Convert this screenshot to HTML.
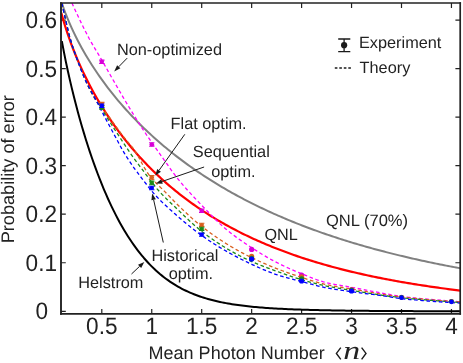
<!DOCTYPE html><html><head><meta charset="utf-8"><style>html,body{margin:0;padding:0;background:#fff}svg{display:block;will-change:transform}text{text-rendering:geometricPrecision;font-family:"Liberation Sans",sans-serif;fill:#222}</style></head><body>
<svg width="463" height="363" viewBox="0 0 463 363">
<rect width="463" height="363" fill="#fff"/>
<defs><clipPath id="c"><rect x="61.00" y="3.10" width="399.20" height="310.70"/></clipPath></defs>
<path d="M101.80,313.80 v-4.8 M101.80,3.10 v4.8 M151.75,313.80 v-4.8 M151.75,3.10 v4.8 M201.70,313.80 v-4.8 M201.70,3.10 v4.8 M251.65,313.80 v-4.8 M251.65,3.10 v4.8 M301.60,313.80 v-4.8 M301.60,3.10 v4.8 M351.55,313.80 v-4.8 M351.55,3.10 v4.8 M401.50,313.80 v-4.8 M401.50,3.10 v4.8 M451.45,313.80 v-4.8 M451.45,3.10 v4.8 M61.00,311.30 h4.8 M460.20,311.30 h-4.8 M61.00,262.76 h4.8 M460.20,262.76 h-4.8 M61.00,214.22 h4.8 M460.20,214.22 h-4.8 M61.00,165.68 h4.8 M460.20,165.68 h-4.8 M61.00,117.14 h4.8 M460.20,117.14 h-4.8 M61.00,68.60 h4.8 M460.20,68.60 h-4.8 M61.00,20.06 h4.8 M460.20,20.06 h-4.8" stroke="#222" stroke-width="1.2" fill="none"/>
<g clip-path="url(#c)" fill="none" stroke-linejoin="round">
<path d="M61.84,3.18 L63.84,8.92 L65.84,14.24 L67.85,19.23 L69.85,23.94 L71.85,28.42 L73.85,32.69 L75.85,36.79 L77.85,40.72 L79.86,44.52 L81.86,48.19 L83.86,51.74 L85.86,55.19 L87.86,58.53 L89.87,61.79 L91.87,64.96 L93.87,68.05 L95.87,71.06 L97.87,74.01 L99.87,76.88 L101.88,79.70 L103.88,82.45 L105.88,85.15 L107.88,87.79 L109.88,90.38 L111.89,92.93 L113.89,95.42 L115.89,97.87 L117.89,100.27 L119.89,102.63 L121.89,104.95 L123.90,107.23 L125.90,109.47 L127.90,111.68 L129.90,113.85 L131.90,115.98 L133.91,118.09 L135.91,120.15 L137.91,122.19 L139.91,124.20 L141.91,126.17 L143.91,128.12 L145.92,130.04 L147.92,131.93 L149.92,133.79 L151.92,135.63 L153.92,137.44 L155.93,139.23 L157.93,140.99 L159.93,142.73 L161.93,144.45 L163.93,146.14 L165.93,147.81 L167.94,149.46 L169.94,151.08 L171.94,152.69 L173.94,154.28 L175.94,155.84 L177.94,157.38 L179.95,158.91 L181.95,160.42 L183.95,161.90 L185.95,163.37 L187.95,164.83 L189.96,166.26 L191.96,167.68 L193.96,169.08 L195.96,170.46 L197.96,171.83 L199.96,173.18 L201.97,174.51 L203.97,175.83 L205.97,177.13 L207.97,178.42 L209.97,179.69 L211.98,180.95 L213.98,182.20 L215.98,183.43 L217.98,184.64 L219.98,185.85 L221.98,187.03 L223.99,188.21 L225.99,189.37 L227.99,190.52 L229.99,191.66 L231.99,192.78 L234.00,193.90 L236.00,195.00 L238.00,196.08 L240.00,197.16 L242.00,198.22 L244.00,199.28 L246.01,200.32 L248.01,201.35 L250.01,202.37 L252.01,203.38 L254.01,204.37 L256.02,205.36 L258.02,206.34 L260.02,207.30 L262.02,208.26 L264.02,209.21 L266.02,210.14 L268.03,211.07 L270.03,211.99 L272.03,212.89 L274.03,213.79 L276.03,214.68 L278.04,215.56 L280.04,216.43 L282.04,217.29 L284.04,218.15 L286.04,218.99 L288.04,219.83 L290.05,220.65 L292.05,221.47 L294.05,222.28 L296.05,223.09 L298.05,223.88 L300.06,224.67 L302.06,225.45 L304.06,226.22 L306.06,226.98 L308.06,227.73 L310.06,228.48 L312.07,229.22 L314.07,229.96 L316.07,230.68 L318.07,231.40 L320.07,232.11 L322.08,232.82 L324.08,233.52 L326.08,234.21 L328.08,234.89 L330.08,235.57 L332.08,236.24 L334.09,236.90 L336.09,237.56 L338.09,238.21 L340.09,238.86 L342.09,239.50 L344.10,240.13 L346.10,240.76 L348.10,241.38 L350.10,241.99 L352.10,242.60 L354.10,243.20 L356.11,243.80 L358.11,244.39 L360.11,244.98 L362.11,245.56 L364.11,246.13 L366.11,246.70 L368.12,247.27 L370.12,247.83 L372.12,248.38 L374.12,248.93 L376.12,249.47 L378.13,250.01 L380.13,250.54 L382.13,251.07 L384.13,251.59 L386.13,252.11 L388.13,252.62 L390.14,253.13 L392.14,253.64 L394.14,254.13 L396.14,254.63 L398.14,255.12 L400.15,255.60 L402.15,256.08 L404.15,256.56 L406.15,257.03 L408.15,257.50 L410.15,257.96 L412.16,258.42 L414.16,258.88 L416.16,259.33 L418.16,259.77 L420.16,260.21 L422.17,260.65 L424.17,261.09 L426.17,261.52 L428.17,261.94 L430.17,262.37 L432.17,262.78 L434.18,263.20 L436.18,263.61 L438.18,264.02 L440.18,264.42 L442.18,264.82 L444.19,265.22 L446.19,265.61 L448.19,266.00 L450.19,266.38 L452.19,266.76 L454.19,267.14 L456.20,267.52 L458.20,267.89 L460.20,268.26" stroke="#808080" stroke-width="2.0"/>
<path d="M61.24,12.74 L63.25,19.92 L65.25,26.53 L67.26,32.70 L69.26,38.51 L71.26,44.01 L73.27,49.25 L75.27,54.25 L77.28,59.05 L79.28,63.66 L81.29,68.10 L83.29,72.39 L85.30,76.54 L87.30,80.56 L89.31,84.46 L91.31,88.24 L93.32,91.92 L95.32,95.50 L97.33,98.99 L99.33,102.38 L101.34,105.70 L103.34,108.93 L105.35,112.09 L107.35,115.17 L109.36,118.19 L111.36,121.13 L113.37,124.02 L115.37,126.84 L117.38,129.60 L119.38,132.31 L121.39,134.96 L123.39,137.56 L125.39,140.11 L127.40,142.60 L129.40,145.05 L131.41,147.45 L133.41,149.81 L135.42,152.13 L137.42,154.40 L139.43,156.63 L141.43,158.82 L143.44,160.97 L145.44,163.08 L147.45,165.16 L149.45,167.20 L151.46,169.21 L153.46,171.18 L155.47,173.11 L157.47,175.02 L159.48,176.89 L161.48,178.74 L163.49,180.55 L165.49,182.33 L167.50,184.08 L169.50,185.81 L171.51,187.51 L173.51,189.18 L175.52,190.82 L177.52,192.44 L179.53,194.03 L181.53,195.60 L183.53,197.14 L185.54,198.66 L187.54,200.16 L189.55,201.63 L191.55,203.08 L193.56,204.51 L195.56,205.92 L197.57,207.30 L199.57,208.67 L201.58,210.01 L203.58,211.34 L205.59,212.64 L207.59,213.93 L209.60,215.20 L211.60,216.45 L213.61,217.68 L215.61,218.89 L217.62,220.08 L219.62,221.26 L221.63,222.42 L223.63,223.56 L225.64,224.69 L227.64,225.80 L229.65,226.90 L231.65,227.98 L233.66,229.04 L235.66,230.09 L237.66,231.12 L239.67,232.14 L241.67,233.15 L243.68,234.14 L245.68,235.12 L247.69,236.08 L249.69,237.03 L251.70,237.97 L253.70,238.90 L255.71,239.81 L257.71,240.71 L259.72,241.59 L261.72,242.47 L263.73,243.33 L265.73,244.18 L267.74,245.02 L269.74,245.85 L271.75,246.67 L273.75,247.47 L275.76,248.27 L277.76,249.05 L279.77,249.83 L281.77,250.59 L283.78,251.34 L285.78,252.09 L287.79,252.82 L289.79,253.54 L291.80,254.26 L293.80,254.96 L295.80,255.65 L297.81,256.34 L299.81,257.02 L301.82,257.68 L303.82,258.34 L305.83,258.99 L307.83,259.63 L309.84,260.27 L311.84,260.89 L313.85,261.51 L315.85,262.12 L317.86,262.72 L319.86,263.31 L321.87,263.90 L323.87,264.47 L325.88,265.04 L327.88,265.61 L329.89,266.16 L331.89,266.71 L333.90,267.25 L335.90,267.78 L337.91,268.31 L339.91,268.83 L341.92,269.35 L343.92,269.85 L345.93,270.35 L347.93,270.85 L349.93,271.34 L351.94,271.82 L353.94,272.29 L355.95,272.76 L357.95,273.23 L359.96,273.68 L361.96,274.14 L363.97,274.58 L365.97,275.02 L367.98,275.46 L369.98,275.89 L371.99,276.31 L373.99,276.73 L376.00,277.14 L378.00,277.55 L380.01,277.95 L382.01,278.35 L384.02,278.74 L386.02,279.13 L388.03,279.52 L390.03,279.89 L392.04,280.27 L394.04,280.64 L396.05,281.00 L398.05,281.36 L400.06,281.72 L402.06,282.07 L404.07,282.41 L406.07,282.75 L408.07,283.09 L410.08,283.43 L412.08,283.76 L414.09,284.08 L416.09,284.40 L418.10,284.72 L420.10,285.03 L422.11,285.34 L424.11,285.65 L426.12,285.95 L428.12,286.25 L430.13,286.55 L432.13,286.84 L434.14,287.12 L436.14,287.41 L438.15,287.69 L440.15,287.97 L442.16,288.24 L444.16,288.51 L446.17,288.78 L448.17,289.04 L450.18,289.30 L452.18,289.56 L454.19,289.81 L456.19,290.06 L458.20,290.31 L460.20,290.56" stroke="#ff0000" stroke-width="2.2"/>
<path d="M61.84,41.07 L63.84,51.66 L65.84,61.58 L67.85,70.96 L69.85,79.88 L71.85,88.39 L73.85,96.55 L75.85,104.37 L77.85,111.90 L79.86,119.15 L81.86,126.15 L83.86,132.90 L85.86,139.42 L87.86,145.72 L89.87,151.82 L91.87,157.71 L93.87,163.42 L95.87,168.93 L97.87,174.27 L99.87,179.44 L101.88,184.44 L103.88,189.27 L105.88,193.95 L107.88,198.48 L109.88,202.86 L111.89,207.09 L113.89,211.18 L115.89,215.13 L117.89,218.96 L119.89,222.65 L121.89,226.21 L123.90,229.65 L125.90,232.97 L127.90,236.18 L129.90,239.27 L131.90,242.25 L133.91,245.12 L135.91,247.89 L137.91,250.56 L139.91,253.13 L141.91,255.60 L143.91,257.98 L145.92,260.26 L147.92,262.46 L149.92,264.58 L151.92,266.61 L153.92,268.56 L155.93,270.43 L157.93,272.23 L159.93,273.96 L161.93,275.61 L163.93,277.20 L165.93,278.72 L167.94,280.18 L169.94,281.57 L171.94,282.91 L173.94,284.19 L175.94,285.41 L177.94,286.58 L179.95,287.70 L181.95,288.77 L183.95,289.79 L185.95,290.77 L187.95,291.70 L189.96,292.59 L191.96,293.44 L193.96,294.26 L195.96,295.03 L197.96,295.77 L199.96,296.47 L201.97,297.15 L203.97,297.79 L205.97,298.40 L207.97,298.98 L209.97,299.54 L211.98,300.07 L213.98,300.57 L215.98,301.05 L217.98,301.51 L219.98,301.95 L221.98,302.36 L223.99,302.76 L225.99,303.14 L227.99,303.49 L229.99,303.84 L231.99,304.16 L234.00,304.48 L236.00,304.77 L238.00,305.05 L240.00,305.32 L242.00,305.58 L244.00,305.83 L246.01,306.06 L248.01,306.28 L250.01,306.50 L252.01,306.70 L254.01,306.89 L256.02,307.08 L258.02,307.25 L260.02,307.42 L262.02,307.58 L264.02,307.74 L266.02,307.88 L268.03,308.03 L270.03,308.16 L272.03,308.29 L274.03,308.41 L276.03,308.53 L278.04,308.64 L280.04,308.75 L282.04,308.85 L284.04,308.95 L286.04,309.05 L288.04,309.14 L290.05,309.22 L292.05,309.31 L294.05,309.39 L296.05,309.46 L298.05,309.54 L300.06,309.61 L302.06,309.67 L304.06,309.74 L306.06,309.80 L308.06,309.86 L310.06,309.92 L312.07,309.97 L314.07,310.02 L316.07,310.07 L318.07,310.12 L320.07,310.17 L322.08,310.21 L324.08,310.26 L326.08,310.30 L328.08,310.34 L330.08,310.37 L332.08,310.41 L334.09,310.45 L336.09,310.48 L338.09,310.51 L340.09,310.54 L342.09,310.57 L344.10,310.60 L346.10,310.63 L348.10,310.66 L350.10,310.68 L352.10,310.70 L354.10,310.73 L356.11,310.75 L358.11,310.77 L360.11,310.79 L362.11,310.81 L364.11,310.83 L366.11,310.85 L368.12,310.87 L370.12,310.89 L372.12,310.90 L374.12,310.92 L376.12,310.93 L378.13,310.95 L380.13,310.96 L382.13,310.97 L384.13,310.99 L386.13,311.00 L388.13,311.01 L390.14,311.02 L392.14,311.03 L394.14,311.04 L396.14,311.05 L398.14,311.06 L400.15,311.07 L402.15,311.08 L404.15,311.09 L406.15,311.10 L408.15,311.11 L410.15,311.11 L412.16,311.12 L414.16,311.13 L416.16,311.13 L418.16,311.14 L420.16,311.15 L422.17,311.15 L424.17,311.16 L426.17,311.16 L428.17,311.17 L430.17,311.18 L432.17,311.18 L434.18,311.18 L436.18,311.19 L438.18,311.19 L440.18,311.20 L442.18,311.20 L444.19,311.21 L446.19,311.21 L448.19,311.21 L450.19,311.22 L452.19,311.22 L454.19,311.22 L456.20,311.23 L458.20,311.23 L460.20,311.23" stroke="#000000" stroke-width="2.0"/>
<path d="M71.90,3.07 L74.34,8.31 L76.78,13.54 L79.23,18.71 L81.67,23.79 L84.11,28.76 L86.55,33.58 L88.99,38.23 L91.44,42.64 L93.88,46.83 L96.32,50.90 L98.76,54.94 L101.21,59.07 L103.65,63.34 L106.09,67.65 L108.53,71.94 L110.97,76.23 L113.42,80.51 L115.86,84.76 L118.30,88.99 L120.74,93.19 L123.18,97.35 L125.63,101.48 L128.07,105.56 L130.51,109.61 L132.95,113.60 L135.40,117.54 L137.84,121.43 L140.28,125.26 L142.72,129.03 L145.16,132.75 L147.61,136.40 L150.05,139.99 L152.49,143.51 L154.93,146.98 L157.37,150.44 L159.82,153.90 L162.26,157.34 L164.70,160.77 L167.14,164.23 L169.59,167.71 L172.03,171.14 L174.47,174.46 L176.91,177.64 L179.35,180.68 L181.80,183.62 L184.24,186.46 L186.68,189.22 L189.12,191.92 L191.56,194.57 L194.01,197.19 L196.45,199.77 L198.89,202.34 L201.33,204.90 L203.78,207.47 L206.22,210.02 L208.66,212.57 L211.10,215.08 L213.54,217.55 L215.99,219.97 L218.43,222.32 L220.87,224.61 L223.31,226.82 L225.75,228.94 L228.20,230.98 L230.64,232.93 L233.08,234.81 L235.52,236.63 L237.97,238.40 L240.41,240.12 L242.85,241.81 L245.29,243.46 L247.73,245.09 L250.18,246.70 L252.62,248.29 L255.06,249.87 L257.50,251.42 L259.94,252.95 L262.39,254.44 L264.83,255.91 L267.27,257.33 L269.71,258.72 L272.16,260.08 L274.60,261.39 L277.04,262.66 L279.48,263.89 L281.92,265.09 L284.37,266.25 L286.81,267.39 L289.25,268.49 L291.69,269.57 L294.13,270.63 L296.58,271.66 L299.02,272.68 L301.46,273.67 L303.90,274.67 L306.35,275.67 L308.79,276.67 L311.23,277.65 L313.67,278.60 L316.11,279.50 L318.56,280.36 L321.00,281.15 L323.44,281.87 L325.88,282.52 L328.32,283.09 L330.77,283.62 L333.21,284.10 L335.65,284.55 L338.09,284.98 L340.54,285.40 L342.98,285.81 L345.42,286.22 L347.86,286.65 L350.30,287.09 L352.75,287.55 L355.19,288.02 L357.63,288.49 L360.07,288.96 L362.51,289.43 L364.96,289.91 L367.40,290.38 L369.84,290.84 L372.28,291.30 L374.73,291.76 L377.17,292.21 L379.61,292.65 L382.05,293.09 L384.49,293.52 L386.94,293.95 L389.38,294.40 L391.82,294.84 L394.26,295.27 L396.70,295.68 L399.15,296.06 L401.59,296.41 L404.03,296.73 L406.47,297.03 L408.92,297.32 L411.36,297.60 L413.80,297.86 L416.24,298.12 L418.68,298.36 L421.13,298.60 L423.57,298.83 L426.01,299.05 L428.45,299.27 L430.89,299.48 L433.34,299.68 L435.78,299.88 L438.22,300.08 L440.66,300.27 L443.11,300.46 L445.55,300.65 L447.99,300.84 L450.43,301.03 L452.87,301.21 L455.32,301.40 L457.76,301.57 L460.20,301.75" stroke="#ff00ff" stroke-width="1.3" stroke-dasharray="3.6 2.6"/>
<path d="M61.84,3.07 L64.35,14.39 L66.85,25.38 L69.36,35.72 L71.86,44.43 L74.37,51.73 L76.87,58.54 L79.38,65.31 L81.88,71.84 L84.39,77.92 L86.89,83.44 L89.40,88.69 L91.90,93.60 L94.41,98.02 L96.92,101.83 L99.42,104.79 L101.93,107.59 L104.43,110.77 L106.94,114.09 L109.44,117.50 L111.95,120.96 L114.45,124.44 L116.96,127.91 L119.46,131.33 L121.97,134.67 L124.48,137.92 L126.98,141.03 L129.49,143.91 L131.99,146.85 L134.50,150.23 L137.00,154.29 L139.51,158.79 L142.01,163.44 L144.52,167.94 L147.02,172.06 L149.53,175.58 L152.03,178.63 L154.54,181.41 L157.05,183.99 L159.55,186.46 L162.06,188.90 L164.56,191.35 L167.07,193.90 L169.57,196.50 L172.08,199.11 L174.58,201.68 L177.09,204.20 L179.59,206.68 L182.10,209.11 L184.61,211.50 L187.11,213.84 L189.62,216.14 L192.12,218.38 L194.63,220.56 L197.13,222.68 L199.64,224.75 L202.14,226.75 L204.65,228.70 L207.15,230.60 L209.66,232.46 L212.16,234.26 L214.67,236.03 L217.18,237.75 L219.68,239.43 L222.19,241.06 L224.69,242.66 L227.20,244.22 L229.70,245.75 L232.21,247.23 L234.71,248.68 L237.22,250.10 L239.72,251.49 L242.23,252.84 L244.73,254.17 L247.24,255.46 L249.75,256.72 L252.25,257.96 L254.76,259.16 L257.26,260.33 L259.77,261.48 L262.27,262.59 L264.78,263.69 L267.28,264.76 L269.79,265.80 L272.29,266.83 L274.80,267.84 L277.31,268.83 L279.81,269.79 L282.32,270.74 L284.82,271.67 L287.33,272.57 L289.83,273.46 L292.34,274.33 L294.84,275.19 L297.35,276.03 L299.85,276.85 L302.36,277.66 L304.86,278.48 L307.37,279.30 L309.88,280.11 L312.38,280.90 L314.89,281.67 L317.39,282.40 L319.90,283.09 L322.40,283.74 L324.91,284.34 L327.41,284.88 L329.92,285.38 L332.42,285.84 L334.93,286.28 L337.43,286.69 L339.94,287.09 L342.45,287.49 L344.95,287.88 L347.46,288.29 L349.96,288.70 L352.47,289.13 L354.97,289.57 L357.48,290.02 L359.98,290.47 L362.49,290.92 L364.99,291.37 L367.50,291.81 L370.01,292.26 L372.51,292.69 L375.02,293.12 L377.52,293.54 L380.03,293.96 L382.53,294.36 L385.04,294.75 L387.54,295.13 L390.05,295.49 L392.55,295.84 L395.06,296.18 L397.56,296.50 L400.07,296.81 L402.58,297.11 L405.08,297.39 L407.59,297.66 L410.09,297.93 L412.60,298.19 L415.10,298.45 L417.61,298.69 L420.11,298.93 L422.62,299.16 L425.12,299.39 L427.63,299.61 L430.14,299.83 L432.64,300.03 L435.15,300.24 L437.65,300.44 L440.16,300.63 L442.66,300.82 L445.17,301.00 L447.67,301.18 L450.18,301.36 L452.68,301.53 L455.19,301.69 L457.69,301.85 L460.20,302.00" stroke="#d95f1e" stroke-width="1.3" stroke-dasharray="3.6 2.6"/>
<path d="M61.84,3.07 L64.35,14.39 L66.85,25.38 L69.36,35.72 L71.86,44.43 L74.37,51.73 L76.87,58.54 L79.38,65.31 L81.88,71.84 L84.39,77.92 L86.89,83.41 L89.40,88.44 L91.90,93.13 L94.41,97.55 L96.92,101.78 L99.42,105.73 L101.93,109.57 L104.43,113.53 L106.94,117.46 L109.44,121.37 L111.95,125.26 L114.45,129.13 L116.96,132.97 L119.46,136.79 L121.97,140.58 L124.48,144.44 L126.98,148.29 L129.49,151.98 L131.99,155.55 L134.50,159.02 L137.00,162.44 L139.51,165.81 L142.01,169.17 L144.52,172.55 L147.02,175.94 L149.53,179.30 L152.03,182.55 L154.54,185.72 L157.05,188.80 L159.55,191.70 L162.06,194.41 L164.56,196.97 L167.07,199.44 L169.57,201.83 L172.08,204.20 L174.58,206.56 L177.09,208.94 L179.59,211.36 L182.10,213.78 L184.61,216.19 L187.11,218.57 L189.62,220.91 L192.12,223.20 L194.63,225.43 L197.13,227.58 L199.64,229.66 L202.14,231.65 L204.65,233.58 L207.15,235.46 L209.66,237.29 L212.16,239.07 L214.67,240.81 L217.18,242.50 L219.68,244.15 L222.19,245.75 L224.69,247.31 L227.20,248.82 L229.70,250.30 L232.21,251.73 L234.71,253.12 L237.22,254.48 L239.72,255.79 L242.23,257.07 L244.73,258.31 L247.24,259.51 L249.75,260.68 L252.25,261.81 L254.76,262.90 L257.26,263.95 L259.77,264.96 L262.27,265.94 L264.78,266.90 L267.28,267.83 L269.79,268.76 L272.29,269.68 L274.80,270.59 L277.31,271.50 L279.81,272.41 L282.32,273.31 L284.82,274.19 L287.33,275.07 L289.83,275.92 L292.34,276.76 L294.84,277.57 L297.35,278.36 L299.85,279.13 L302.36,279.87 L304.86,280.61 L307.37,281.32 L309.88,282.03 L312.38,282.71 L314.89,283.38 L317.39,284.02 L319.90,284.63 L322.40,285.21 L324.91,285.76 L327.41,286.27 L329.92,286.76 L332.42,287.21 L334.93,287.64 L337.43,288.06 L339.94,288.47 L342.45,288.87 L344.95,289.27 L347.46,289.66 L349.96,290.07 L352.47,290.48 L354.97,290.90 L357.48,291.32 L359.98,291.74 L362.49,292.16 L364.99,292.58 L367.50,292.99 L370.01,293.39 L372.51,293.79 L375.02,294.19 L377.52,294.57 L380.03,294.95 L382.53,295.31 L385.04,295.67 L387.54,296.01 L390.05,296.34 L392.55,296.67 L395.06,296.97 L397.56,297.27 L400.07,297.55 L402.58,297.82 L405.08,298.08 L407.59,298.33 L410.09,298.57 L412.60,298.80 L415.10,299.03 L417.61,299.24 L420.11,299.46 L422.62,299.66 L425.12,299.87 L427.63,300.06 L430.14,300.26 L432.64,300.45 L435.15,300.64 L437.65,300.82 L440.16,301.01 L442.66,301.19 L445.17,301.38 L447.67,301.56 L450.18,301.74 L452.68,301.92 L455.19,302.11 L457.69,302.29 L460.20,302.47" stroke="#1a8a1a" stroke-width="1.3" stroke-dasharray="3.6 2.6"/>
<path d="M61.84,3.07 L64.35,14.39 L66.85,25.38 L69.36,35.72 L71.86,44.43 L74.37,51.73 L76.87,58.54 L79.38,65.31 L81.88,71.84 L84.39,77.92 L86.89,83.39 L89.40,88.22 L91.90,92.70 L94.41,97.12 L96.92,101.74 L99.42,106.72 L101.93,111.56 L104.43,116.39 L106.94,121.13 L109.44,125.81 L111.95,130.45 L114.45,135.07 L116.96,139.69 L119.46,144.47 L121.97,149.16 L124.48,153.42 L126.98,157.45 L129.49,161.29 L131.99,164.97 L134.50,168.52 L137.00,171.95 L139.51,175.31 L142.01,178.59 L144.52,181.83 L147.02,185.05 L149.53,188.28 L152.03,191.44 L154.54,194.33 L157.05,197.06 L159.55,199.65 L162.06,202.12 L164.56,204.52 L167.07,206.84 L169.57,209.11 L172.08,211.35 L174.58,213.56 L177.09,215.78 L179.59,217.96 L182.10,220.11 L184.61,222.22 L187.11,224.28 L189.62,226.31 L192.12,228.29 L194.63,230.23 L197.13,232.13 L199.64,233.99 L202.14,235.80 L204.65,237.57 L207.15,239.29 L209.66,240.98 L212.16,242.62 L214.67,244.23 L217.18,245.80 L219.68,247.34 L222.19,248.84 L224.69,250.31 L227.20,251.74 L229.70,253.15 L232.21,254.52 L234.71,255.87 L237.22,257.19 L239.72,258.48 L242.23,259.74 L244.73,260.98 L247.24,262.19 L249.75,263.38 L252.25,264.54 L254.76,265.70 L257.26,266.85 L259.77,267.99 L262.27,269.10 L264.78,270.18 L267.28,271.22 L269.79,272.22 L272.29,273.16 L274.80,274.06 L277.31,274.90 L279.81,275.68 L282.32,276.43 L284.82,277.14 L287.33,277.82 L289.83,278.49 L292.34,279.14 L294.84,279.79 L297.35,280.43 L299.85,281.08 L302.36,281.75 L304.86,282.43 L307.37,283.12 L309.88,283.81 L312.38,284.49 L314.89,285.16 L317.39,285.80 L319.90,286.41 L322.40,286.99 L324.91,287.52 L327.41,288.00 L329.92,288.46 L332.42,288.89 L334.93,289.30 L337.43,289.69 L339.94,290.07 L342.45,290.43 L344.95,290.79 L347.46,291.15 L349.96,291.51 L352.47,291.87 L354.97,292.22 L357.48,292.55 L359.98,292.87 L362.49,293.19 L364.99,293.50 L367.50,293.81 L370.01,294.11 L372.51,294.42 L375.02,294.74 L377.52,295.06 L380.03,295.38 L382.53,295.72 L385.04,296.06 L387.54,296.44 L390.05,296.85 L392.55,297.27 L395.06,297.68 L397.56,298.06 L400.07,298.41 L402.58,298.71 L405.08,298.98 L407.59,299.25 L410.09,299.50 L412.60,299.74 L415.10,299.97 L417.61,300.18 L420.11,300.39 L422.62,300.60 L425.12,300.79 L427.63,300.98 L430.14,301.16 L432.64,301.34 L435.15,301.51 L437.65,301.68 L440.16,301.84 L442.66,302.01 L445.17,302.17 L447.67,302.33 L450.18,302.48 L452.68,302.64 L455.19,302.79 L457.69,302.93 L460.20,303.08" stroke="#0000ff" stroke-width="1.3" stroke-dasharray="3.6 2.6"/>
</g>
<g>
<path d="M99.10,60.10 H104.50 M99.10,63.50 H104.50" stroke="#d800d8" stroke-width="1.1" fill="none"/>
<ellipse cx="101.80" cy="61.80" rx="2.3" ry="2.00" fill="#d800d8"/>
<path d="M99.10,102.33 H104.50 M99.10,105.73 H104.50" stroke="#d95f1e" stroke-width="1.1" fill="none"/>
<ellipse cx="101.80" cy="104.03" rx="2.3" ry="2.00" fill="#d95f1e"/>
<path d="M99.10,105.73 H104.50 M99.10,109.13 H104.50" stroke="#1a8a1a" stroke-width="1.1" fill="none"/>
<ellipse cx="101.80" cy="107.43" rx="2.3" ry="2.00" fill="#1a8a1a"/>
<path d="M99.10,104.03 H104.50 M99.10,107.43 H104.50" stroke="#0000ff" stroke-width="1.1" fill="none"/>
<ellipse cx="101.80" cy="105.73" rx="2.3" ry="2.00" fill="#0000ff"/>
<path d="M149.05,142.72 H154.45 M149.05,146.32 H154.45" stroke="#d800d8" stroke-width="1.1" fill="none"/>
<ellipse cx="151.75" cy="144.52" rx="2.3" ry="2.10" fill="#d800d8"/>
<path d="M149.05,175.58 H154.45 M149.05,179.18 H154.45" stroke="#d95f1e" stroke-width="1.1" fill="none"/>
<ellipse cx="151.75" cy="177.38" rx="2.3" ry="2.10" fill="#d95f1e"/>
<path d="M149.05,181.16 H154.45 M149.05,184.76 H154.45" stroke="#1a8a1a" stroke-width="1.1" fill="none"/>
<ellipse cx="151.75" cy="182.96" rx="2.3" ry="2.10" fill="#1a8a1a"/>
<path d="M149.05,186.21 H154.45 M149.05,189.81 H154.45" stroke="#0000ff" stroke-width="1.1" fill="none"/>
<ellipse cx="151.75" cy="188.01" rx="2.3" ry="2.10" fill="#0000ff"/>
<path d="M199.00,209.13 H204.40 M199.00,212.33 H204.40" stroke="#d800d8" stroke-width="1.1" fill="none"/>
<ellipse cx="201.70" cy="210.73" rx="2.3" ry="1.90" fill="#d800d8"/>
<path d="M199.00,223.20 H204.40 M199.00,226.40 H204.40" stroke="#d95f1e" stroke-width="1.1" fill="none"/>
<ellipse cx="201.70" cy="224.80" rx="2.3" ry="1.90" fill="#d95f1e"/>
<path d="M199.00,227.28 H204.40 M199.00,230.48 H204.40" stroke="#1a8a1a" stroke-width="1.1" fill="none"/>
<ellipse cx="201.70" cy="228.88" rx="2.3" ry="1.90" fill="#1a8a1a"/>
<path d="M199.00,233.10 H204.40 M199.00,236.30 H204.40" stroke="#0000ff" stroke-width="1.1" fill="none"/>
<ellipse cx="201.70" cy="234.70" rx="2.3" ry="1.90" fill="#0000ff"/>
<circle cx="251.65" cy="249.46" r="2.60" fill="#d800d8"/>
<circle cx="251.65" cy="256.45" r="2.60" fill="#d95f1e"/>
<circle cx="251.65" cy="258.39" r="2.60" fill="#1a8a1a"/>
<circle cx="251.65" cy="259.07" r="2.60" fill="#0000ff"/>
<circle cx="301.60" cy="275.09" r="2.60" fill="#d800d8"/>
<circle cx="301.60" cy="276.84" r="2.60" fill="#d95f1e"/>
<circle cx="301.60" cy="278.83" r="2.60" fill="#1a8a1a"/>
<circle cx="301.60" cy="281.01" r="2.60" fill="#0000ff"/>
<circle cx="351.55" cy="289.70" r="2.60" fill="#d800d8"/>
<circle cx="351.55" cy="289.94" r="2.60" fill="#d95f1e"/>
<circle cx="351.55" cy="290.43" r="2.60" fill="#1a8a1a"/>
<circle cx="351.55" cy="291.01" r="2.60" fill="#0000ff"/>
<circle cx="401.50" cy="297.22" r="2.35" fill="#d800d8"/>
<circle cx="401.50" cy="297.32" r="2.35" fill="#d95f1e"/>
<circle cx="401.50" cy="297.47" r="2.35" fill="#1a8a1a"/>
<circle cx="401.50" cy="297.71" r="2.35" fill="#0000ff"/>
<circle cx="451.45" cy="301.35" r="2.35" fill="#d800d8"/>
<circle cx="451.45" cy="301.45" r="2.35" fill="#d95f1e"/>
<circle cx="451.45" cy="301.59" r="2.35" fill="#1a8a1a"/>
<circle cx="451.45" cy="301.79" r="2.35" fill="#0000ff"/>
</g>
<path d="M61.00,2.35 V314.65" stroke="#222" stroke-width="1.9" fill="none"/>
<path d="M60.05,313.80 H461.05" stroke="#222" stroke-width="1.7" fill="none"/>
<path d="M460.20,2.35 V314.65" stroke="#222" stroke-width="1.7" fill="none"/>
<path d="M60.05,3.10 H461.05" stroke="#222" stroke-width="1.5" fill="none"/>
<text transform="translate(101.80,333.9) scale(0.95,1)" font-size="23.8" text-anchor="middle">0.5</text>
<text transform="translate(151.75,333.9) scale(0.95,1)" font-size="23.8" text-anchor="middle">1</text>
<text transform="translate(201.70,333.9) scale(0.95,1)" font-size="23.8" text-anchor="middle">1.5</text>
<text transform="translate(251.65,333.9) scale(0.95,1)" font-size="23.8" text-anchor="middle">2</text>
<text transform="translate(301.60,333.9) scale(0.95,1)" font-size="23.8" text-anchor="middle">2.5</text>
<text transform="translate(351.55,333.9) scale(0.95,1)" font-size="23.8" text-anchor="middle">3</text>
<text transform="translate(401.50,333.9) scale(0.95,1)" font-size="23.8" text-anchor="middle">3.5</text>
<text transform="translate(451.45,333.9) scale(0.95,1)" font-size="23.8" text-anchor="middle">4</text>
<text transform="translate(48.2,319.30) scale(0.95,1)" font-size="23.8" text-anchor="end">0</text>
<text transform="translate(57.0,270.76) scale(0.95,1)" font-size="23.8" text-anchor="end">0.1</text>
<text transform="translate(57.0,222.22) scale(0.95,1)" font-size="23.8" text-anchor="end">0.2</text>
<text transform="translate(57.0,173.68) scale(0.95,1)" font-size="23.8" text-anchor="end">0.3</text>
<text transform="translate(57.0,125.14) scale(0.95,1)" font-size="23.8" text-anchor="end">0.4</text>
<text transform="translate(57.0,76.60) scale(0.95,1)" font-size="23.8" text-anchor="end">0.5</text>
<text transform="translate(57.0,28.06) scale(0.95,1)" font-size="23.8" text-anchor="end">0.6</text>
<text transform="translate(14.0,243.3) rotate(-90)" font-size="18.15">Probability of error</text>
<text x="148.6" y="358.9" font-size="18">Mean Photon Number</text>
<text transform="translate(343.2,359.0) scale(1.3,1)" font-size="26" font-style="italic" style="font-family:'Liberation Serif',serif">n</text>
<path d="M340.8,347.6 L336.4,353.4 L340.8,359.3 M361.6,347.6 L366.0,353.4 L361.6,359.3" stroke="#1a1a1a" stroke-width="1.4" fill="none"/>
<text x="117.00" y="55.10" font-size="16.3" fill="#0d0d0d">Non-optimized</text>
<text x="170.60" y="128.60" font-size="16.3" fill="#0d0d0d">Flat optim.</text>
<text x="192.80" y="157.00" font-size="16.3" fill="#0d0d0d">Sequential</text>
<text x="211.20" y="176.70" font-size="16.3" fill="#0d0d0d">optim.</text>
<text x="151.50" y="260.80" font-size="16.3" fill="#0d0d0d">Historical</text>
<text x="168.70" y="279.10" font-size="16.3" fill="#0d0d0d">optim.</text>
<text x="78.30" y="287.80" font-size="16.3" fill="#0d0d0d">Helstrom</text>
<text x="264.40" y="240.20" font-size="16.2" fill="#0d0d0d">QNL</text>
<text x="326.00" y="226.00" font-size="16.55" fill="#0d0d0d">QNL (70%)</text>
<text x="359.00" y="47.50" font-size="16.3" fill="#0d0d0d">Experiment</text>
<text x="359.60" y="72.80" font-size="16.3" fill="#0d0d0d">Theory</text>
<path d="M127.20,58.10 L118.74,66.75" stroke="#1a1a1a" stroke-width="1" fill="none"/>
<path d="M114.20,71.40 L117.10,65.14 L120.39,68.36 Z" fill="#1a1a1a"/>
<path d="M184.80,134.30 L159.08,170.31" stroke="#1a1a1a" stroke-width="1" fill="none"/>
<path d="M155.30,175.60 L157.21,168.97 L160.95,171.65 Z" fill="#1a1a1a"/>
<path d="M204.10,167.00 L162.05,181.48" stroke="#1a1a1a" stroke-width="1" fill="none"/>
<path d="M155.90,183.60 L161.30,179.31 L162.79,183.66 Z" fill="#1a1a1a"/>
<path d="M163.30,242.50 L153.64,199.84" stroke="#1a1a1a" stroke-width="1" fill="none"/>
<path d="M152.20,193.50 L155.88,199.33 L151.39,200.35 Z" fill="#1a1a1a"/>
<path d="M131.50,274.00 L139.58,266.37" stroke="#1a1a1a" stroke-width="1" fill="none"/>
<path d="M144.30,261.90 L141.16,268.04 L138.00,264.69 Z" fill="#1a1a1a"/>
<path d="M344.1,39.0 V51.7 M338.2,39.0 H350.3 M338.2,51.7 H350.3" stroke="#1a1a1a" stroke-width="1.3" fill="none"/>
<circle cx="344.1" cy="45.2" r="3.1" fill="#1a1a1a"/>
<path d="M334.8,68 H351" stroke="#1a1a1a" stroke-width="1.5" stroke-dasharray="2.6 1.9" fill="none"/>
</svg></body></html>
